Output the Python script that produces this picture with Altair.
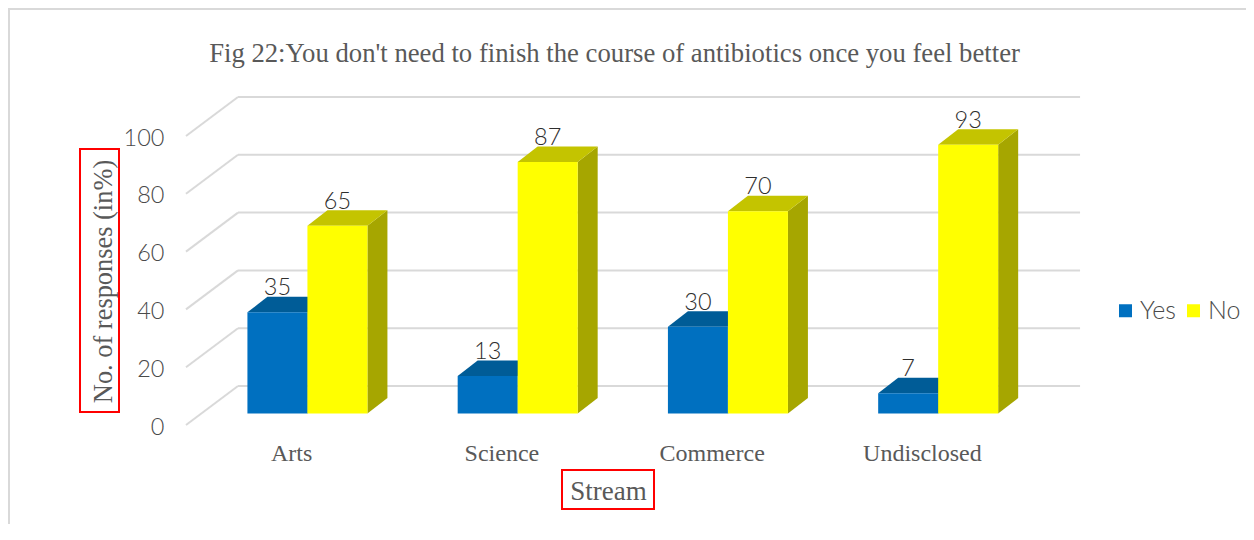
import json
import altair as alt
import pandas as pd

CATEGORIES = ["Arts", "Science", "Commerce", "Undisclosed"]
YES = [35, 13, 30, 7]
NO = [65, 87, 70, 93]
TICKS = [0, 20, 40, 60, 80, 100]
TITLE = "Fig 22:You don't need to finish the course of antibiotics once you feel better"

SERIES = {"Yes": YES, "No": NO}
FRONT = {"Yes": "#0070C0", "No": "#FFFF00"}
TOP = {"Yes": "#005C97", "No": "#C4C400"}
SIDE = {"Yes": "#00507F", "No": "#A6A600"}
GREY = "#595959"
GRID = "#D9D9D9"
SERIF = "Liberation Serif"
SANS = "Lato"

PX_X = 841 / 4
PX_Y = 2.89
BAR_W = 60 / PX_X
BAR_X0 = 16.3 / PX_X
BAR_Y0 = 11.5 / PX_Y
BAR_DX = 20 / PX_X
BAR_DY = 15.5 / PX_Y
WALL_DX = 52 / PX_X
WALL_DY = 39 / PX_Y

VIEW_H = 327
x_scale = alt.Scale(domain=[-0.5, 3.5], nice=False, zero=False)
y_scale = alt.Scale(domain=[0, VIEW_H / PX_Y], nice=False, zero=False)
Q = dict(scale=x_scale)
R = dict(scale=y_scale)

front, tops, sides, labels = [], [], [], []
for s, vals in SERIES.items():
    for i, v in enumerate(vals):
        l = i + BAR_X0 - (BAR_W if s == "Yes" else 0)
        r = l + BAR_W
        key = f"{s}{i}"
        front.append(dict(series=s, cat=CATEGORIES[i], value=v, l=l, r=r, t=v + BAR_Y0, b=BAR_Y0))
        labels.append(dict(series=s, value=v, x=(l + r) / 2, y=v + BAR_Y0))
        for k in (0, 1):
            sides.append(dict(key=key, series=s, x=r + k * BAR_DX,
                              y=v + BAR_Y0 + k * BAR_DY, y2=BAR_Y0 + k * BAR_DY))
            tops.append(dict(key=key, series=s, y=v + BAR_Y0 + k * BAR_DY,
                             x=l + k * BAR_DX, x2=r + k * BAR_DX))
front, tops, sides, labels = map(pd.DataFrame, (front, tops, sides, labels))

walls = pd.DataFrame([dict(x=-0.5 + WALL_DX, x2=3.5 + WALL_DX + 0.005, y=t + WALL_DY, y2=t + WALL_DY) for t in TICKS])
diags = pd.DataFrame([dict(x=-0.5, x2=-0.5 + WALL_DX, y=t, y2=t + WALL_DY) for t in TICKS])

label_expr = json.dumps(CATEGORIES) + "[datum.value]"

grid = alt.Chart(pd.concat([walls, diags])).mark_rule(color=GRID, strokeWidth=2).encode(
    x=alt.X("x:Q", scale=x_scale, title="Stream", axis=alt.Axis(
        values=[0, 1, 2, 3], labelExpr=label_expr, grid=False, domain=False, ticks=False,
        labelFont=SERIF, labelFontSize=24, labelColor=GREY, labelPadding=16,
        titleFont=SERIF, titleFontSize=27, titleColor=GREY, titleFontWeight="normal",
        titleX=422, titleY=53)),
    x2="x2:Q",
    y=alt.Y("y:Q", scale=y_scale, title="No. of responses (in%)", axis=alt.Axis(
        values=TICKS, grid=False, domain=False, ticks=False,
        labelFont=SANS, labelFontSize=23.5, labelColor="#4A4A4A", labelFontWeight=300,
        labelPadding=22, labelOffset=2,
        titleFont=SERIF, titleFontSize=26.4, titleColor=GREY, titleFontWeight="normal",
        titleX=-69, titleY=183)),
    y2="y2:Q",
)

side_layers, top_layers = [], []
for s in SERIES:
    side_layers.append(alt.Chart(sides[sides.series == s]).mark_area(color=SIDE[s], opacity=1).encode(
        x=alt.X("x:Q", **Q), y=alt.Y("y:Q", **R), y2="y2:Q", detail="key:N"))
    top_layers.append(alt.Chart(tops[tops.series == s]).mark_area(color=TOP[s], opacity=1, orient="horizontal").encode(
        y=alt.Y("y:Q", **R), x=alt.X("x:Q", **Q), x2="x2:Q", detail="key:N"))

bars = alt.Chart(front).mark_rect().encode(
    x=alt.X("l:Q", **Q), x2="r:Q", y=alt.Y("t:Q", **R), y2="b:Q",
    color=alt.Color("series:N", scale=alt.Scale(domain=list(SERIES), range=[FRONT[s] for s in SERIES]),
                    legend=alt.Legend(title=None, orient="none", legendX=927, legendY=200, direction="horizontal",
                                      columns=2, symbolType="square", symbolSize=169, symbolStrokeWidth=0,
                                      labelFont=SANS, labelFontSize=25, labelColor="#4A4A4A", labelFontWeight=300,
                                      labelOffset=2, columnPadding=5)),
)

text = alt.Chart(labels).mark_text(font=SANS, fontSize=23.5, fontWeight=300, color="#2E2E2E", dy=-17,
                                   baseline="alphabetic").encode(
    x=alt.X("x:Q", **Q), y=alt.Y("y:Q", **R), text="value:Q")

def box(x, x2, y, y2):
    return alt.Chart(pd.DataFrame({"a": [0]})).mark_rect(fillOpacity=0, stroke="#FF0000", strokeWidth=2).encode(
        x=alt.value(x), x2=alt.value(x2), y=alt.value(y), y2=alt.value(y2))

def frame(x, x2, y, y2):
    return alt.Chart(pd.DataFrame({"a": [0]})).mark_rule(color=GRID, strokeWidth=2).encode(
        x=alt.value(x), x2=alt.value(x2), y=alt.value(y), y2=alt.value(y2))

chart = alt.layer(
    frame(-177, -177, -90, 426), frame(-178, 1060, -89, -89),
    grid, *side_layers, *top_layers, bars, text,
    box(-106, -67, 51, 314), box(376, 468, 372, 411),
).properties(
    width=841, height=VIEW_H, background="white",
    title=alt.TitleParams(TITLE, font=SERIF, fontSize=26.7, fontWeight="normal", color=GREY,
                          anchor="middle", dx=8, offset=-61),
    padding={"left": 178, "top": 90, "right": 219, "bottom": 99},
    autosize=alt.AutoSizeParams(type="none"),
).configure_view(stroke=None)

chart.save("out.html", embed_options={"renderer": "svg", "actions": False})
